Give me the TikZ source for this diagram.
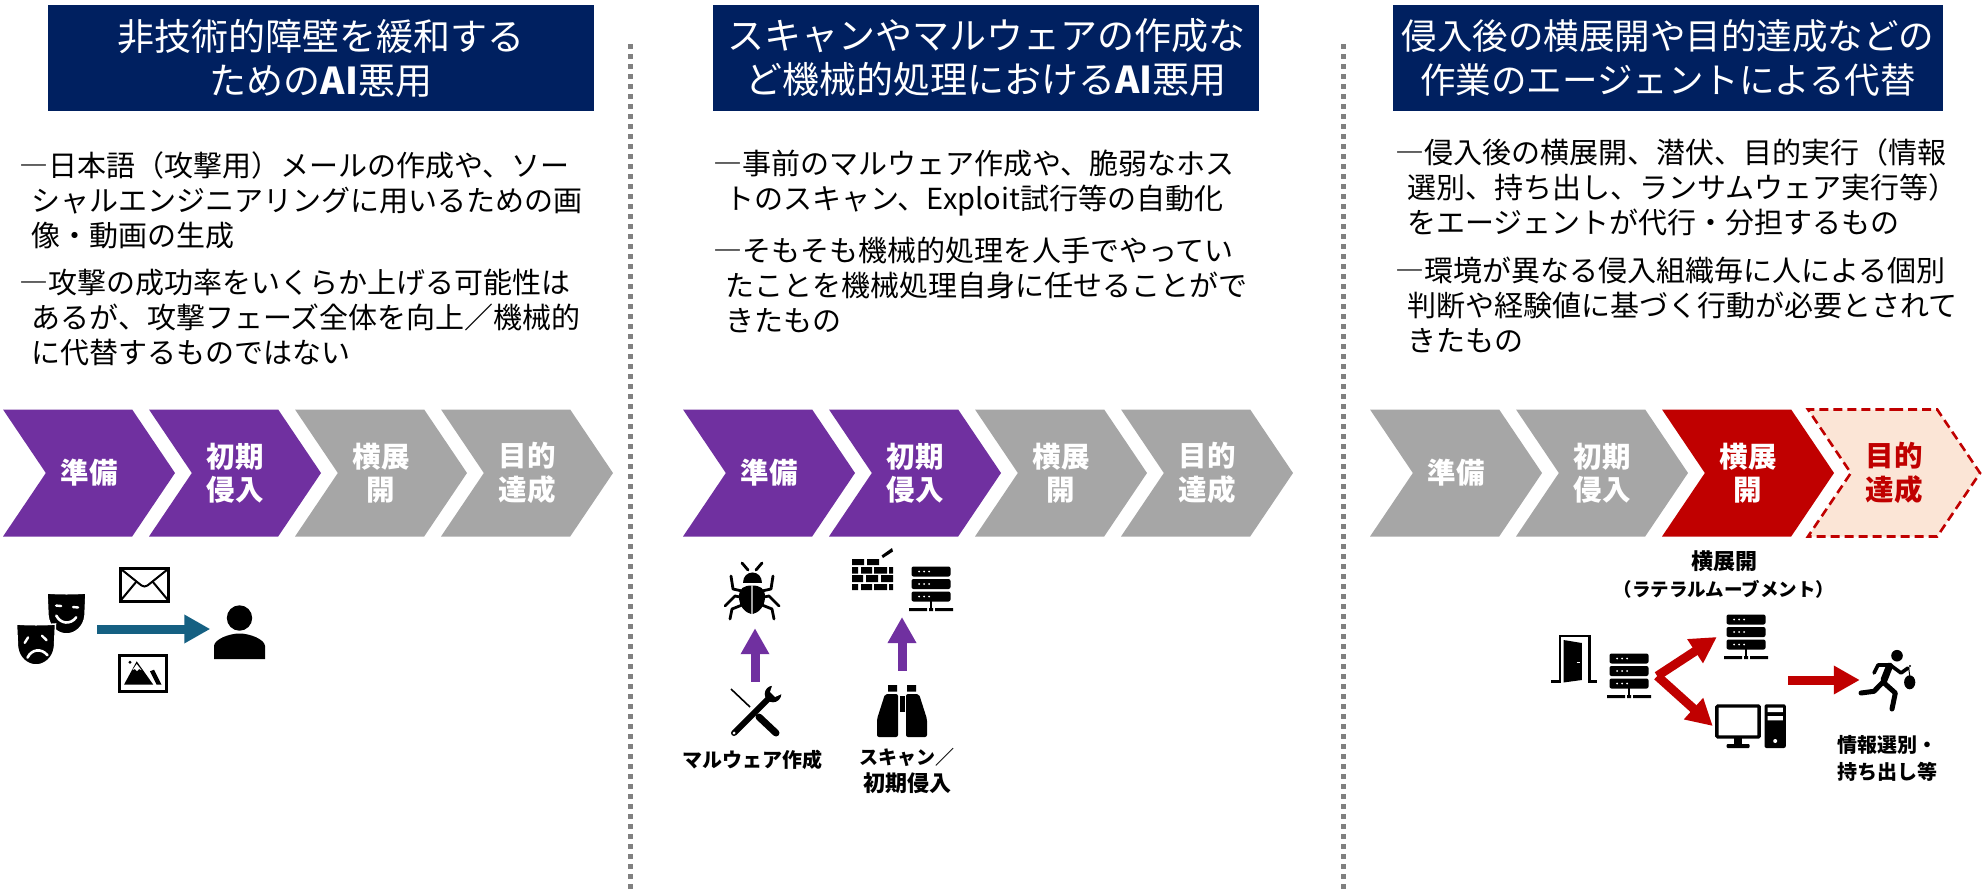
\documentclass[tikz,border=0pt]{standalone}
\usepackage{fontspec}
\setmainfont{Noto Sans CJK JP}
\usetikzlibrary{arrows.meta,positioning,shapes.symbols}

\definecolor{navy}{HTML}{002060}
\definecolor{stagepurple}{HTML}{7030A0}
\definecolor{stagegray}{HTML}{A6A6A6}
\definecolor{stagered}{HTML}{C00000}
\definecolor{stagepale}{HTML}{FBE5D6}
\definecolor{arrowblue}{HTML}{156082}

\newcommand{\ind}{\hspace*{12pt}}

\tikzset{
    header/.style={fill=navy, text=white, minimum width=546pt, minimum height=106pt, inner sep=0pt,
        align=center, font=\fontsize{37}{44}\selectfont},
    bodytext/.style={inner sep=0pt, align=left, anchor=north west, font=\fontsize{29}{35}\selectfont},
    stage/.style={signal, signal from=west, signal to=east, signal pointer angle=112,
        minimum width=172pt, minimum height=127pt, inner sep=0pt, align=center,
        text=white, font=\fontsize{28.5}{33.5}\selectfont\bfseries},
    purplestage/.style={stage, fill=stagepurple},
    graystage/.style={stage, fill=stagegray},
    redstage/.style={stage, fill=stagered},
    palestage/.style={stage, fill=stagepale, draw=stagered, line width=2.6pt, dash pattern=on 9pt off 5pt, text=stagered},
    iconbox/.style={inner sep=0pt, minimum width=#1, minimum height=#1},
    caption/.style={inner sep=0pt, align=center, font=\fontsize{20}{27}\selectfont\bfseries},
    fatarrow/.style={line width=9pt, -{Triangle[length=26pt, width=27pt]}},
    separator/.style={line width=5pt, dash pattern=on 5pt off 5pt, color=gray},
    pics/serverbar/.style={code={
        \fill[rounded corners=2pt] (-19.5,-5) rectangle (19.5,5);
        \fill[white] (-12,0) circle (1) (-7,0) circle (1) (-2,0) circle (1);
    }},
    pics/servericon/.style={code={
        \pic at (0,-17.5) {serverbar};
        \pic at (0,-5) {serverbar};
        \pic at (0,7.5) {serverbar};
        \fill (-1.2,12) rectangle (1.2,19);
        \fill (-22,19) rectangle (-4,22) (-2,19) rectangle (2,22) (4,19) rectangle (22,22);
    }},
    pics/maskshape/.style={code={
        \filldraw[draw=white, line width=1.5pt] (-19.5,-20.5) .. controls (-8,-19.5) and (8,-19.5) .. (19.5,-20.5) -- (18.5,2)
            .. controls (17.5,14) and (8,20.5) .. (0,20.5) .. controls (-8,20.5) and (-17.5,14) .. (-18.5,2) -- cycle;
    }},
    pics/happymask/.style={code={
        \pic {maskshape};
        \draw[white, line width=2.4pt, line cap=round] (-11,-7) -- (-6,-7) (6,-7) -- (11,-7);
        \draw[white, line width=2.6pt, line cap=round] (-10,3) .. controls (-5,11) and (5,11) .. (10,3);
    }},
    pics/sadmask/.style={code={
        \pic {maskshape};
        \draw[white, line width=2.4pt, line cap=round] (-11,-3) -- (-7,-8) (7,-8) -- (11,-3);
        \draw[white, line width=2.6pt, line cap=round] (-10,12) .. controls (-5,4) and (5,4) .. (10,12);
    }},
    pics/mailicon/.style={code={
        \draw[line width=3pt] (-24,-16.5) rectangle (24,16.5);
        \draw[line width=2pt] (-23,-15) -- (-3,1) -- (0,2) -- (3,1) -- (23,-15);
        \draw[line width=2pt] (-23,15) -- (-8,-3) (23,15) -- (8,-3);
    }},
    pics/photoicon/.style={code={
        \draw[line width=3pt] (-23.5,-18) rectangle (23.5,18);
        \fill (-13,-10.7) circle (1.6);
        \fill (-6.3,-11.7) -- (10.3,11.7) -- (-19,11.7) -- cycle;
        \fill[white] (-6.3,-9) -- (-1.5,-3) -- (-4,-4) -- (-6,-2) -- (-8,-4) -- (-10.5,-3) -- cycle;
        \fill (7,-1.7) -- (11,-3.3) -- (18.6,11.7) -- (13.6,11.7) -- cycle;
    }},
    pics/personicon/.style={code={
        \fill (0,-18) circle (12.7);
        \fill (-25.5,23) -- (-25.5,10) .. controls (-25,3) and (-10,-2.5) .. (0,-2.5)
            .. controls (10,-2.5) and (25,3) .. (25.5,10) -- (25.5,23) -- cycle;
    }},
    pics/bugicon/.style={code={
        \fill (-9.5,-8) .. controls (-9.5,-22) and (10,-22) .. (10,-8) -- cycle;
        \fill (0,-5.5) .. controls (-8,-5.5) and (-13,-3) .. (-13,6) .. controls (-13,16) and (-6,22) .. (-0.7,23)
            -- (-0.7,-5.5) -- (0.7,-5.5) -- (0.7,23) .. controls (6,22) and (13,16) .. (13,6)
            .. controls (13,-3) and (8,-5.5) .. (0,-5.5) -- cycle;
        \draw[line width=2.8pt, line cap=round, line join=round]
            (-10,-28) -- (-4,-21) (10,-28) -- (4,-21)
            (-21,-15) -- (-19,-2) -- (-10,0) (21,-15) -- (19,-2) -- (10,0)
            (-27,15) -- (-17,5) -- (-12,6) (27,15) -- (17,5) -- (12,6)
            (-22,28) -- (-20,18) -- (-10,14) (22,28) -- (20,18) -- (10,14);
    }},
    pics/toolicon/.style={code={
        \draw[line width=6pt, line cap=round] (-21,21) -- (15,-15);
        \fill (18,-18) circle (8.3);
        \fill[white] (15,-20) -- (19,-32) -- (31,-20) -- (20,-15) -- cycle;
        \fill[white] (-21,21) circle (1.5);
        \draw[line width=1.6pt] (-24,-23) -- (-5,-5);
        \draw[line width=7pt, line cap=round] (4,5) -- (21,21);
    }},
    pics/wallicon/.style={code={
        \fill (-20.5,-15.5) rectangle (-8.5,-9.5) (-5.5,-15.5) rectangle (6.5,-9.5);
        \fill (-20.5,-7.5) rectangle (-14.5,-1) (-11.5,-7.5) rectangle (-0.5,-1)
            (1.5,-7.5) rectangle (14.5,-1) (16.5,-7.5) rectangle (20.5,-1);
        \fill (-20.5,0.5) rectangle (-9.5,7.5) (-6.5,0.5) rectangle (5.5,7.5) (8.5,0.5) rectangle (20.5,7.5);
        \fill (-20.5,9.5) rectangle (-14.5,15.5) (-11.5,9.5) rectangle (-0.5,15.5)
            (1.5,9.5) rectangle (14.5,15.5) (16.5,9.5) rectangle (20.5,15.5);
        \fill (9,-19) -- (19.5,-26.5) -- (20.5,-23) -- (10.5,-16.5) -- cycle;
    }},
    pics/scopeicon/.style={code={
        \fill (-14,-26) rectangle (-5,-19.5) (5,-26) rectangle (14,-19.5);
        \fill[rounded corners=2pt] (-17,-17) -- (-4,-17) -- (-4,26) -- (-25,26) -- (-25,8) -- cycle;
        \fill[rounded corners=2pt] (17,-17) -- (4,-17) -- (4,26) -- (25,26) -- (25,8) -- cycle;
        \fill (-2.5,-15) rectangle (2.5,1);
    }},
    pics/dooricon/.style={code={
        \draw[line width=2.4pt] (-23,22.5) -- (-14,22.5) -- (-14,-23) -- (15.5,-23) -- (15.5,22.5) -- (23,22.5);
        \fill (-10.5,-19) -- (7.8,-16) -- (7.8,21) -- (-10.5,23.5) -- cycle;
        \draw[white, line width=1pt] (2.5,3) -- (6,3);
    }},
    pics/pcicon/.style={code={
        \draw[line width=3.4pt, rounded corners=1pt] (-33.6,-20) rectangle (8.6,11);
        \fill (-17,12) rectangle (-8.7,18);
        \fill[rounded corners=1pt] (-24,18) rectangle (-1,22);
        \fill[rounded corners=2pt] (14,-21.7) rectangle (35.3,22);
        \fill[white] (17,-18.3) rectangle (32.3,-14) (17,-10) rectangle (32.3,-5.7);
        \fill[white] (24.7,15) circle (2);
    }},
    pics/runnericon/.style={code={
        \fill (10,-24.3) circle (5.8);
        \draw[line width=7pt, line cap=round] (2.5,-14) -- (-3,0);
        \draw[line width=5pt, line join=round, line cap=round]
            (-4,2) -- (-13,11.3) -- (-26,13)
            (-4,2) -- (8.3,13) -- (5,29);
        \draw[line width=3.6pt, line join=round, line cap=round]
            (3.3,-15) -- (-9,-15) -- (-13,-7)
            (3.3,-15) -- (14,-7) -- (21,-12);
        \fill (22.7,2.3) ellipse (5.6 and 7);
        \fill (23,-14) circle (1.2);
        \draw[line width=1pt] (21.7,-12) -- (22.7,-4);
    }},
}

\begin{document}
\begin{tikzpicture}[x=1pt, y=-1pt, node distance=146pt]
    \useasboundingbox (0,0) rectangle (1986,894);

    % Headers
    \node[header] (headA) at (321,58) {非技術的障壁を緩和する\\ための\textbf{AI}悪用};
    \node[header] (headB) at (986,58) {スキャンやマルウェアの作成な\\ど機械的処理における\textbf{AI}悪用};
    \node[header, minimum width=550pt, font=\fontsize{35.5}{44}\selectfont] (headC) at (1668,58) {侵入後の横展開や目的達成などの\\作業のエージェントによる代替};

    % Separators
    \coordinate (sepAtop) at (630,44);
    \coordinate (sepAend) at (630,890);
    \coordinate (sepBtop) at (1343,44);
    \coordinate (sepBend) at (1343,890);
    \draw[separator] (sepAtop) -- (sepAend);
    \draw[separator] (sepBtop) -- (sepBend);

    % Body text
    \node[bodytext] (textA1) at (19.6,151) {―日本語（攻撃用）メールの作成や、ソー\\\ind シャルエンジニアリングに用いるための画\\\ind 像・動画の生成};
    \node[bodytext, below=20pt of textA1.south west, anchor=north west] (textA2) {―攻撃の成功率をいくらか上げる可能性は\\\ind あるが、攻撃フェーズ全体を向上／機械的\\\ind に代替するものではない};
    \node[bodytext] (textB1) at (713.5,150) {―事前のマルウェア作成や、脆弱なホス\\\ind トのスキャン、Exploit試行等の自動化};
    \node[bodytext, below=20pt of textB1.south west, anchor=north west] (textB2) {―そもそも機械的処理を人手でやってい\\\ind たことを機械処理自身に任せることがで\\\ind きたもの};
    \node[bodytext] (textC1) at (1395,138.5) {―侵入後の横展開、潜伏、目的実行（情報\\\ind 選別、持ち出し、ランサムウェア実行等）\\\ind をエージェントが代行・分担するもの};
    \node[bodytext, below=21pt of textC1.south west, anchor=north west] (textC2) {―環境が異なる侵入組織毎に人による個別\\\ind 判断や経験値に基づく行動が必要とされて\\\ind きたもの};

    % Stages
    \node[purplestage] (prepA) at (89,473) {準備};
    \node[purplestage] (initA) [right of=prepA] {初期\\侵入};
    \node[graystage] (lateralA) [right of=initA] {横展\\開};
    \node[graystage] (goalA) [right of=lateralA] {目的\\達成};
    \node[purplestage] (prepB) at (769,473) {準備};
    \node[purplestage] (initB) [right of=prepB] {初期\\侵入};
    \node[graystage] (lateralB) [right of=initB] {横展\\開};
    \node[graystage] (goalB) [right of=lateralB] {目的\\達成};
    \node[graystage] (prepC) at (1456,473) {準備};
    \node[graystage] (initC) [right of=prepC] {初期\\侵入};
    \node[redstage] (lateralC) [right of=initC] {横展\\開};
    \node[palestage] (goalC) [right of=lateralC] {目的\\達成};

    % Left icons
    \node[iconbox=82pt] (masks) at (56,629) {};
    \node[iconbox=58pt] (person) at (239.5,629) {};
    \node[iconbox=40pt] (mail) at (144.5,584.5) {};
    \node[iconbox=40pt] (photo) at (143,673) {};
    \pic[rotate=-5] at (66.5,613.5) {happymask};
    \pic[rotate=7] at (36,644.5) {sadmask};
    \pic at (mail) {mailicon};
    \pic at (photo) {photoicon};
    \pic at ([shift={(0,7)}]person) {personicon};

    % Middle icons
    \node[iconbox=74pt] (bug) at (755,591) {};
    \node[iconbox=60pt] (tools) at (755,712) {};
    \node[iconbox=42pt] (wall) at (872.5,574.5) {};
    \node[iconbox=46pt] (srvScan) at (931,589) {};
    \node[iconbox=80pt] (scope) at (902,711) {};
    \coordinate (scanTip) at (902,617);
    \pic at ([shift={(-3,0)}]bug) {bugicon};
    \pic at (tools) {toolicon};
    \pic at (wall) {wallicon};
    \pic at (srvScan) {servericon};
    \pic at (scope) {scopeicon};
    \node[caption, below=8pt of tools.south, xshift=-3pt] (toolsText) {マルウェア作成};
    \node[caption] (scopeText) at (907,771) {{\fontsize{19}{27}\selectfont スキャン／}\\{\fontsize{22}{27}\selectfont 初期侵入}};

    % Right icons
    \node[caption] (lateralText) at (1724,575) {{\fontsize{22}{26}\selectfont 横展開}\\{\fontsize{18.5}{26}\selectfont （ラテラルムーブメント）}};
    \node[iconbox=46pt] (door) at (1574,659) {};
    \node[iconbox=56pt] (srvA) at (1629,676) {};
    \node[iconbox=58pt] (srvB) at (1746,637) {};
    \node[iconbox=75pt] (pc) at (1750.5,726) {};
    \node[iconbox=54pt] (runner) at (1887,680) {};
    \coordinate (moveStart) at (1788,680);
    \pic at (door) {dooricon};
    \pic at (srvA) {servericon};
    \pic at (srvB) {servericon};
    \pic at (pc) {pcicon};
    \pic at (runner) {runnericon};
    \node[caption] (runnerText) at (1887,758) {情報選別・\\持ち出し等};

    % Arrows
    \draw[fatarrow, color=arrowblue] (masks.east) -- (person.west);
    \draw[fatarrow, color=stagepurple] (tools.north) -- (bug.south);
    \draw[fatarrow, color=stagepurple] (scope.north) -- (scanTip);
    \draw[fatarrow, color=stagered] (srvA.east) -- (srvB.west);
    \draw[fatarrow, color=stagered] (srvA.east) -- (pc.west);
    \draw[fatarrow, color=stagered] (moveStart) -- (runner.west);
\end{tikzpicture}
\end{document}
